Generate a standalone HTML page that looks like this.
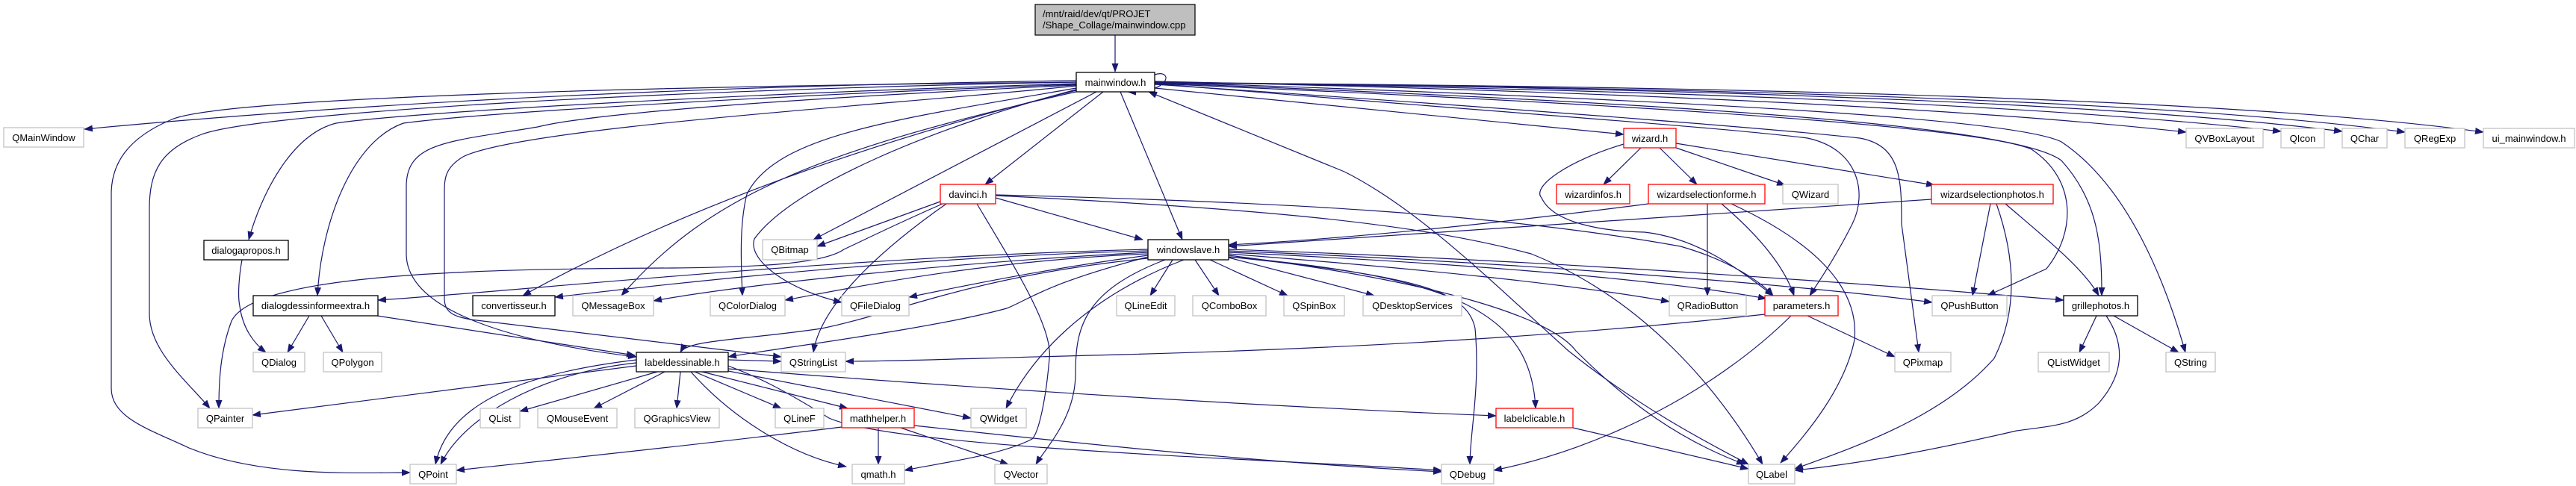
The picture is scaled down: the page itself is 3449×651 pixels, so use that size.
<!DOCTYPE html>
<html><head><meta charset="utf-8"><style>
html,body{margin:0;padding:0;background:#fff;width:3449px;height:651px;overflow:hidden}
svg{display:block}
text{font-family:"Liberation Sans",Arial,sans-serif;font-size:13px;fill:#000}
.e{fill:none;stroke:#191970;stroke-width:1.2}
.g{fill:#fff;stroke:#bfbfbf;stroke-width:1.2}
.b{fill:#fff;stroke:#000;stroke-width:1.3}
.r{fill:#fff;stroke:#ff0000;stroke-width:1.3}
</style></head><body>
<svg width="3449" height="651" viewBox="0 0 3449 651" xmlns="http://www.w3.org/2000/svg">
<defs><marker id="a" markerUnits="userSpaceOnUse" markerWidth="12" markerHeight="9" refX="11" refY="4.5" orient="auto"><path d="M0,0 L12,4.5 L0,9 z" fill="#191970"/></marker></defs>
<g class="e" marker-end="url(#a)">
<path d="M1493,47 L1493,96"/>
<path d="M1546,100 C1570,92 1570,124 1510,123"/>
<path d="M1441,108 Q700,118 113,173"/>
<path d="M1441,110 C900,115 300,130 230,160 C170,185 149,220 149,260 L149,520 C149,560 200,575 253,600 C350,640 480,633 549,633"/>
<path d="M1441,110 C900,120 350,150 270,180 C215,200 200,230 200,280 L200,420 C200,470 250,510 281,547"/>
<path d="M1441,112 C1000,125 550,150 450,165 C390,180 350,260 333,321"/>
<path d="M1441,113 C1100,125 650,150 540,165 C470,190 430,300 425,396"/>
<path d="M1441,114 C1100,130 800,150 720,170 C600,190 544,190 544,250 L544,340 C544,420 700,460 852,478"/>
<path d="M1441,115 C1200,140 700,170 620,210 C595,225 595,240 595,260 L595,400 C595,420 610,424 630,428 L1046,478"/>
<path d="M1445,120 Q1000,230 700,396"/>
<path d="M1445,122 C1100,200 950,260 832,396"/>
<path d="M1441,118 C1200,160 1040,180 1000,260 C990,300 992,350 994,396"/>
<path d="M1441,120 C1250,170 1060,250 1010,320 C1000,350 1060,390 1127,405"/>
<path d="M1468,123 L1089,321"/>
<path d="M1477,123 L1319,247"/>
<path d="M1500,123 L1583,321"/>
<path d="M1546,118 L2174,180"/>
<path d="M1546,112 C2000,150 2300,170 2420,185 C2490,200 2500,260 2480,300 C2460,340 2440,370 2423,396"/>
<path d="M1546,113 C2100,150 2400,175 2490,185 C2545,195 2546,240 2546,300 L2569,472"/>
<path d="M1546,112 C2200,140 2650,170 2720,200 C2780,240 2780,310 2740,360 L2661,396"/>
<path d="M1546,111 C2300,140 2700,170 2760,215 C2810,270 2814,330 2814,396"/>
<path d="M1546,110 C2300,135 2700,160 2760,190 C2850,250 2900,380 2926,472"/>
<path d="M1546,109 Q2500,130 2927,177"/>
<path d="M1546,110 Q2600,125 3054,176"/>
<path d="M1546,110 Q2700,122 3136,176"/>
<path d="M1546,111 Q2800,120 3220,177"/>
<path d="M1546,111 Q2900,118 3325,177"/>
<path d="M1800,230 C1900,280 2000,380 2100,470 C2200,550 2300,600 2341,622"/>
<path d="M1800,230 L1538,123"/>
<!-- dialogs -->
<path d="M324,348 C320,370 318,396 321,410 C325,440 340,460 356,472"/>
<path d="M414,423 L385,472"/>
<path d="M430,423 L459,472"/>
<path d="M505,423 L850,476"/>
<!-- davinci -->
<path d="M1259,270 L1094,330"/>
<path d="M1333,265 L1530,321"/>
<path d="M1267,273 C1200,320 1100,400 1089,472"/>
<path d="M1308,273 C1360,360 1410,440 1405,480 C1400,540 1390,580 1382,588 C1340,610 1260,620 1211,630"/>
<path d="M1262,273 C1200,300 1160,320 1130,334 C1100,355 1000,358 900,359 C600,360 340,370 310,430 C295,470 293,510 293,547"/>
<path d="M1333,261 C1700,270 2000,285 2250,330 C2320,350 2360,380 2374,396"/>
<path d="M1333,262 C1700,280 1900,300 2050,340 C2200,400 2300,520 2360,622"/>
<!-- windowslave -->
<path d="M1570,348 L1540,396"/>
<path d="M1600,348 L1632,396"/>
<path d="M1620,348 L1724,396"/>
<path d="M1645,345 L1840,396"/>
<path d="M1645,340 C1900,360 2100,380 2235,404"/>
<path d="M1645,338 C1900,350 2200,370 2365,400"/>
<path d="M1645,336 C2000,350 2400,380 2587,405"/>
<path d="M1645,334 C2100,350 2500,380 2763,402"/>
<path d="M1585,348 C1450,400 1380,480 1347,547"/>
<path d="M1560,348 C1450,390 1440,440 1440,500 C1440,560 1400,600 1387,622"/>
<path d="M1645,344 C1900,370 1965,390 1975,440 C1982,520 1968,580 1968,622"/>
<path d="M1645,344 C1950,370 2050,420 2056,547"/>
<path d="M1645,342 C1950,380 2080,430 2110,470 C2180,540 2250,590 2336,622"/>
<path d="M1537,340 C1300,350 1120,390 1051,402"/>
<path d="M1537,342 C1400,360 1280,385 1217,398"/>
<path d="M1537,338 C1300,350 1000,380 875,403"/>
<path d="M1537,336 C1200,345 900,380 743,398"/>
<path d="M1537,334 C1100,345 700,390 506,402"/>
<path d="M1537,344 C1400,380 1380,400 1348,413 C1250,440 1050,465 975,478"/>
<path d="M1537,346 C1300,370 1200,420 1100,440 C1000,455 920,455 911,472"/>
<!-- incoming windowslave -->
<path d="M2207,273 C2000,300 1800,320 1645,328"/>
<path d="M2586,267 C2200,295 1900,315 1645,330"/>
<!-- labeldessinable -->
<path d="M852,490 L338,556"/>
<path d="M852,482 C700,500 600,540 583,622"/>
<path d="M852,486 C720,500 620,560 590,622"/>
<path d="M880,498 L696,551"/>
<path d="M890,498 L795,547"/>
<path d="M911,498 L906,547"/>
<path d="M930,498 L1046,547"/>
<path d="M940,498 L1135,547"/>
<path d="M970,496 L1300,560"/>
<path d="M925,498 C980,560 1060,610 1133,625"/>
<path d="M975,490 C1000,500 1030,510 1110,560 C1200,600 1700,615 1930,630"/>
<path d="M975,494 C1300,520 1700,545 2003,557"/>
<path d="M975,482 L1046,484"/>
<!-- mathhelper -->
<path d="M1127,572 C900,600 700,620 611,630"/>
<path d="M1176,573 L1176,622"/>
<path d="M1206,573 L1350,622"/>
<path d="M1224,570 C1500,600 1700,620 1930,632"/>
<!-- wizard -->
<path d="M2197,198 L2147,247"/>
<path d="M2222,198 L2272,247"/>
<path d="M2244,198 L2390,248"/>
<path d="M2244,192 L2590,248"/>
<path d="M2174,193 C2100,215 2050,250 2064,265 C2080,300 2150,310 2202,311 C2280,320 2340,370 2374,396"/>
<!-- wizardselectionforme -->
<path d="M2286,273 L2286,396"/>
<path d="M2305,273 C2360,320 2390,360 2402,396"/>
<path d="M2318,273 C2420,320 2490,380 2483,455 C2470,520 2420,580 2384,620"/>
<!-- wizardselectionphotos -->
<path d="M2665,273 L2641,396"/>
<path d="M2685,273 C2740,320 2790,360 2810,396"/>
<path d="M2673,273 C2700,350 2700,420 2670,480 C2600,560 2480,600 2403,628"/>
<!-- parameters -->
<path d="M2363,421 C2100,450 1800,467 1500,475 C1300,480 1200,484 1132,484"/>
<path d="M2420,423 L2537,478"/>
<path d="M2398,423 C2300,520 2150,600 2000,630"/>
<!-- labelclicable, grillephotos -->
<path d="M2106,573 L2341,628"/>
<path d="M2807,423 L2784,472"/>
<path d="M2830,423 L2917,472"/>
<path d="M2820,423 C2845,460 2845,500 2810,540 C2780,570 2750,570 2700,577 C2600,600 2500,620 2403,630"/>
</g>
<g>
<rect x="1386" y="6" width="214" height="41" fill="#bfbfbf" stroke="#000" stroke-width="1.2"/>
<text x="1396" y="23">/mnt/raid/dev/qt/PROJET</text>
<text x="1396" y="38">/Shape_Collage/mainwindow.cpp</text>
</g>
<g text-anchor="middle">
<rect class="b" x="1441" y="97" width="105" height="26"/><text x="1493.5" y="115">mainwindow.h</text>
<rect class="g" x="5" y="171" width="107" height="26"/><text x="58.5" y="189">QMainWindow</text>
<rect class="b" x="273" y="322" width="113" height="26"/><text x="329.5" y="340">dialogapropos.h</text>
<rect class="b" x="339" y="396" width="167" height="27"/><text x="422.5" y="414">dialogdessinformeextra.h</text>
<rect class="b" x="633" y="396" width="110" height="27"/><text x="688" y="414">convertisseur.h</text>
<rect class="g" x="767" y="396" width="108" height="27"/><text x="821" y="414">QMessageBox</text>
<rect class="g" x="951" y="396" width="100" height="27"/><text x="1001" y="414">QColorDialog</text>
<rect class="g" x="1127" y="396" width="90" height="27"/><text x="1172" y="414">QFileDialog</text>
<rect class="g" x="1021" y="321" width="73" height="27"/><text x="1057.5" y="339">QBitmap</text>
<rect class="r" x="1259" y="247" width="74" height="26"/><text x="1296" y="265">davinci.h</text>
<rect class="b" x="1537" y="321" width="108" height="27"/><text x="1591" y="339">windowslave.h</text>
<rect class="g" x="1495" y="396" width="78" height="27"/><text x="1534" y="414">QLineEdit</text>
<rect class="g" x="1597" y="396" width="98" height="27"/><text x="1646" y="414">QComboBox</text>
<rect class="g" x="1719" y="396" width="81" height="27"/><text x="1759.5" y="414">QSpinBox</text>
<rect class="g" x="1825" y="396" width="132" height="27"/><text x="1891" y="414">QDesktopServices</text>
<rect class="g" x="2235" y="396" width="103" height="27"/><text x="2286.5" y="414">QRadioButton</text>
<rect class="r" x="2363" y="396" width="98" height="27"/><text x="2412" y="414">parameters.h</text>
<rect class="g" x="2587" y="396" width="100" height="27"/><text x="2637" y="414">QPushButton</text>
<rect class="b" x="2763" y="396" width="99" height="27"/><text x="2812.5" y="414">grillephotos.h</text>
<rect class="r" x="2174" y="172" width="70" height="26"/><text x="2209" y="190">wizard.h</text>
<rect class="r" x="2084" y="247" width="98" height="26"/><text x="2133" y="265">wizardinfos.h</text>
<rect class="r" x="2207" y="247" width="156" height="26"/><text x="2285" y="265">wizardselectionforme.h</text>
<rect class="g" x="2387" y="247" width="74" height="26"/><text x="2424" y="265">QWizard</text>
<rect class="r" x="2586" y="247" width="163" height="26"/><text x="2667.5" y="265">wizardselectionphotos.h</text>
<rect class="g" x="2927" y="172" width="103" height="26"/><text x="2978.5" y="190">QVBoxLayout</text>
<rect class="g" x="3054" y="172" width="58" height="26"/><text x="3083" y="190">QIcon</text>
<rect class="g" x="3136" y="172" width="60" height="26"/><text x="3166" y="190">QChar</text>
<rect class="g" x="3220" y="172" width="80" height="26"/><text x="3260" y="190">QRegExp</text>
<rect class="g" x="3325" y="172" width="122" height="26"/><text x="3386" y="190">ui_mainwindow.h</text>
<rect class="g" x="339" y="472" width="69" height="26"/><text x="373.5" y="490">QDialog</text>
<rect class="g" x="433" y="472" width="78" height="26"/><text x="472" y="490">QPolygon</text>
<rect class="b" x="852" y="472" width="123" height="26"/><text x="913.5" y="490">labeldessinable.h</text>
<rect class="g" x="1046" y="472" width="86" height="26"/><text x="1089" y="490">QStringList</text>
<rect class="g" x="2537" y="472" width="75" height="26"/><text x="2574.5" y="490">QPixmap</text>
<rect class="g" x="2729" y="472" width="95" height="26"/><text x="2776.5" y="490">QListWidget</text>
<rect class="g" x="2900" y="472" width="66" height="26"/><text x="2933" y="490">QString</text>
<rect class="g" x="265" y="547" width="73" height="26"/><text x="301.5" y="565">QPainter</text>
<rect class="g" x="643" y="547" width="53" height="26"/><text x="669.5" y="565">QList</text>
<rect class="g" x="720" y="547" width="106" height="26"/><text x="773" y="565">QMouseEvent</text>
<rect class="g" x="850" y="547" width="113" height="26"/><text x="906.5" y="565">QGraphicsView</text>
<rect class="g" x="1038" y="547" width="65" height="26"/><text x="1070.5" y="565">QLineF</text>
<rect class="r" x="1127" y="547" width="97" height="26"/><text x="1175.5" y="565">mathhelper.h</text>
<rect class="g" x="1300" y="547" width="74" height="26"/><text x="1337" y="565">QWidget</text>
<rect class="r" x="2003" y="547" width="103" height="26"/><text x="2054.5" y="565">labelclicable.h</text>
<rect class="g" x="549" y="622" width="62" height="26"/><text x="580" y="640">QPoint</text>
<rect class="g" x="1141" y="622" width="70" height="26"/><text x="1176" y="640">qmath.h</text>
<rect class="g" x="1332" y="622" width="70" height="26"/><text x="1367" y="640">QVector</text>
<rect class="g" x="1930" y="622" width="70" height="26"/><text x="1965" y="640">QDebug</text>
<rect class="g" x="2341" y="622" width="62" height="26"/><text x="2372" y="640">QLabel</text>
</g>
</svg>
</body></html>
